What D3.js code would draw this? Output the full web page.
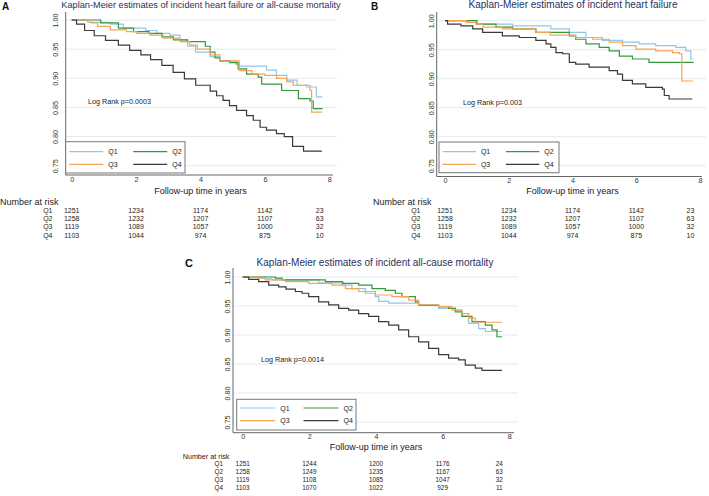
<!DOCTYPE html>
<html>
<head>
<meta charset="utf-8">
<script src="https://cdnjs.cloudflare.com/ajax/libs/d3/7.8.5/d3.min.js"></script>
<style>
    body { margin: 0; background: #fff; }
    text { font-family: "Liberation Sans", Arial, sans-serif; }
</style>
</head>
<body>
<script>
// km_panels.js

var groups = ["Q1", "Q2", "Q3", "Q4"],
    colors = ["#93c5ea", "#37973c", "#f5a455", "#3a3a3a"],
    yTicks = [0.75, 0.80, 0.85, 0.90, 0.95, 1.00],
    xTicks = [0, 2, 4, 6, 8],
    riskTimes = [0, 2, 4, 6, 7.7];

var titleA = "Kaplan-Meier estimates of incident heart failure or all-cause mortality",
    titleB = "Kaplan-Meier estimates of incident heart failure",
    titleC = "Kaplan-Meier estimates of incident all-cause mortality";

var logRankA = "Log Rank p=0.0003",
    logRankB = "Log Rank p=0.003",
    logRankC = "Log Rank p=0.0014";

// panel A: heart failure or all-cause mortality  [time, survival]
var a_q1 = [[0,1],[0.5,0.996],[1.2,0.993],[1.6,0.986],[2.3,0.982],[2.64,0.977],[3.05,0.974],[3.36,0.966],[3.6,0.955],[3.85,0.945],[4.3,0.937],[4.6,0.93],[5.1,0.924],[5.2,0.921],[6.05,0.914],[6.36,0.905],[6.68,0.897],[7.0,0.888],[7.3,0.885],[7.6,0.868],[7.78,0.868]];
var a_q2 = [[0,1],[0.9,0.995],[1.45,0.986],[1.92,0.98],[2.4,0.977],[2.8,0.971],[3.16,0.966],[3.6,0.963],[4.15,0.955],[4.3,0.945],[4.45,0.935],[4.6,0.93],[4.91,0.927],[5.17,0.916],[5.43,0.907],[5.79,0.902],[5.9,0.89],[6.52,0.879],[7.04,0.865],[7.4,0.861],[7.5,0.848],[7.79,0.848]];
var a_q3 = [[0,1],[0.6,0.995],[0.8,0.989],[1.2,0.983],[1.7,0.98],[2.02,0.977],[2.43,0.974],[2.85,0.969],[3.36,0.963],[3.67,0.957],[3.9,0.95],[4.3,0.94],[4.6,0.93],[5.2,0.913],[5.6,0.907],[6.0,0.905],[6.36,0.9],[6.68,0.894],[6.88,0.888],[7.4,0.879],[7.45,0.842],[7.78,0.842]];
var a_q4 = [[0,1],[0.15,0.993],[0.4,0.982],[0.7,0.973],[1.05,0.965],[1.45,0.957],[1.8,0.948],[2.15,0.94],[2.45,0.932],[2.8,0.922],[3.15,0.91],[3.5,0.899],[3.85,0.888],[4.3,0.878],[4.5,0.87],[4.7,0.862],[4.9,0.853],[5.12,0.845],[5.43,0.836],[5.64,0.828],[5.85,0.816],[6.05,0.811],[6.36,0.805],[6.6,0.8],[6.86,0.783],[7.2,0.775],[7.77,0.775]];

// panel B: heart failure
var b_q1 = [[0,1],[0.76,0.997],[1.0,0.994],[2.12,0.991],[3.32,0.986],[3.9,0.98],[4.42,0.971],[4.94,0.966],[5.57,0.963],[6.09,0.96],[6.61,0.957],[7.24,0.954],[7.55,0.948],[7.71,0.934],[7.78,0.934]];
var b_q2 = [[0,1],[1.0,0.994],[1.6,0.989],[2.12,0.986],[2.85,0.98],[3.9,0.974],[4.1,0.968],[4.42,0.96],[4.84,0.954],[5.15,0.948],[5.47,0.939],[5.88,0.934],[6.4,0.928],[7.8,0.928]];
var b_q3 = [[0,1],[0.66,0.997],[0.97,0.994],[1.2,0.989],[1.8,0.986],[2.85,0.98],[3.3,0.975],[4.1,0.971],[4.63,0.968],[5.15,0.963],[5.57,0.957],[5.99,0.951],[6.61,0.948],[7.14,0.945],[7.35,0.943],[7.43,0.896],[7.78,0.896]];
var b_q4 = [[0,1],[0.08,0.994],[0.5,0.991],[0.87,0.986],[1.18,0.98],[1.8,0.974],[2.33,0.971],[2.85,0.966],[3.17,0.96],[3.32,0.954],[3.48,0.945],[3.69,0.943],[3.9,0.928],[4.1,0.925],[4.52,0.92],[5.15,0.914],[5.41,0.908],[5.57,0.897],[5.88,0.891],[6.3,0.885],[6.82,0.882],[6.88,0.871],[7.03,0.865],[7.76,0.865]];

// panel C: all-cause mortality
var c_q1 = [[0,1],[0.68,0.997],[0.88,0.995],[2.28,0.99],[2.98,0.986],[3.28,0.98],[3.68,0.972],[3.98,0.966],[4.08,0.958],[4.38,0.955],[5.28,0.952],[5.88,0.946],[6.38,0.943],[6.58,0.932],[6.78,0.92],[7.08,0.911],[7.28,0.906],[7.78,0.906]];
var c_q2 = [[0,1],[0.98,0.998],[1.18,0.995],[2.48,0.992],[3.0,0.989],[3.48,0.986],[3.88,0.98],[4.28,0.977],[4.58,0.972],[4.78,0.966],[5.18,0.957],[5.28,0.951],[5.88,0.949],[6.18,0.946],[6.38,0.94],[6.58,0.932],[6.88,0.923],[7.28,0.917],[7.48,0.909],[7.63,0.897],[7.78,0.897]];
var c_q3 = [[0,1],[0.48,0.998],[0.68,0.995],[1.28,0.992],[1.98,0.989],[2.68,0.986],[3.08,0.98],[3.48,0.975],[3.98,0.969],[4.48,0.966],[4.98,0.96],[5.28,0.952],[5.88,0.949],[6.28,0.943],[6.58,0.937],[6.78,0.929],[6.98,0.922],[7.78,0.922]];
var c_q4 = [[0,1],[0.18,0.996],[0.48,0.992],[0.78,0.986],[1.08,0.983],[1.3,0.979],[1.58,0.975],[1.78,0.972],[1.98,0.966],[2.28,0.957],[2.58,0.952],[2.88,0.946],[3.18,0.943],[3.48,0.937],[3.78,0.932],[4.08,0.923],[4.38,0.917],[4.68,0.909],[4.98,0.897],[5.28,0.888],[5.58,0.877],[5.88,0.866],[6.18,0.86],[6.48,0.857],[6.68,0.848],[6.98,0.843],[7.18,0.839],[7.78,0.839]];

// number at risk
var riskAB_q1 = [1251, 1234, 1174, 1142, 23],
    riskAB_q2 = [1258, 1232, 1207, 1107, 63],
    riskAB_q3 = [1119, 1089, 1057, 1000, 32],
    riskAB_q4 = [1103, 1044, 974, 875, 10];
var riskC_q1 = [1251, 1244, 1200, 1176, 24],
    riskC_q2 = [1258, 1249, 1235, 1167, 63],
    riskC_q3 = [1119, 1108, 1085, 1047, 32],
    riskC_q4 = [1103, 1070, 1022, 929, 11];

var width = 709,
    height = 496;

var svg = d3.select("body").append("svg")
    .attr("width", width)
    .attr("height", height)
    .style("background-color", "#fff");

function drawPanel(p)
{
    var x = d3.scaleLinear().domain([0, 8]).range([p.x0, p.x8]),
        y = d3.scaleLinear().domain([0.75, 1]).range([p.yBot, p.yTop]);

    var g = svg.append("g");

    // grid
    g.selectAll(".grid").data(yTicks).enter().append("line")
        .attr("x1", p.axisX).attr("x2", p.right)
        .attr("y1", function(d) { return y(d); })
        .attr("y2", function(d) { return y(d); })
        .attr("stroke", "#e1ecf0")
        .attr("stroke-width", 1);

    // axes
    var yAxis = g.append("g")
        .attr("transform", "translate(" + p.axisX + ",0)")
        .call(d3.axisLeft(y).tickValues(yTicks).tickFormat(d3.format(".2f")).tickSize(0));
    yAxis.select(".domain").remove();
    yAxis.selectAll("text")
        .attr("transform", "rotate(-90)")
        .attr("x", 0).attr("dx", 0)
        .attr("y", -p.yLab).attr("dy", 0)
        .attr("text-anchor", "middle")
        .style("font-size", "7.2px")
        .attr("fill", "#333");

    var xAxis = g.append("g")
        .attr("transform", "translate(0," + p.axisY + ")")
        .call(d3.axisBottom(x).tickValues(xTicks).tickSize(0).tickPadding(p.xPad));
    xAxis.select(".domain").remove();
    xAxis.selectAll("text")
        .style("font-size", "7.2px")
        .attr("fill", "#333");

    g.append("line")
        .attr("x1", p.axisX).attr("x2", p.axisX)
        .attr("y1", p.top).attr("y2", p.axisY)
        .attr("stroke", "#666").attr("stroke-width", 1);
    g.append("line")
        .attr("x1", p.axisX).attr("x2", p.right - 4)
        .attr("y1", p.axisY).attr("y2", p.axisY)
        .attr("stroke", "#666").attr("stroke-width", 1);

    // curves
    var line = d3.line()
        .curve(d3.curveStepAfter)
        .x(function(d) { return x(d[0]); })
        .y(function(d) { return y(d[1]); });

    p.curves.forEach(function(c, i) {
        g.append("path")
            .datum(c)
            .attr("d", line)
            .attr("fill", "none")
            .attr("stroke", colors[i])
            .attr("stroke-width", 1.2);
    });

    // titles
    g.append("text")
        .attr("x", p.titleX).attr("y", p.titleY)
        .attr("text-anchor", "middle")
        .style("font-size", p.titleSize + "px")
        .attr("fill", "#1f3162")
        .text(p.title);
    g.append("text")
        .attr("x", p.letterX).attr("y", p.letterY)
        .style("font-size", p.letterSize + "px")
        .style("font-weight", "bold")
        .attr("fill", "#111")
        .text(p.letter);
    g.append("text")
        .attr("x", x(4)).attr("y", p.xTitleY)
        .attr("text-anchor", "middle")
        .style("font-size", "9px")
        .attr("fill", "#222")
        .text("Follow-up time in years");
    g.append("text")
        .attr("x", p.lrX).attr("y", p.lrY)
        .style("font-size", "7.2px")
        .attr("fill", "#222")
        .text(p.logRank);

    // legend
    var lg = p.legend;
    g.append("rect")
        .attr("x", lg.x).attr("y", lg.y)
        .attr("width", lg.w).attr("height", lg.h)
        .attr("fill", "#fff")
        .attr("stroke", "#777")
        .attr("stroke-width", 1);
    groups.forEach(function(name, i) {
        var col = i % 2,
            row = Math.floor(i / 2),
            lx = lg.x + 3.5 + col * lg.colGap,
            ly = lg.y + lg.row0 + row * lg.rowGap;
        g.append("line")
            .attr("x1", lx).attr("x2", lx + lg.lineW)
            .attr("y1", ly).attr("y2", ly)
            .attr("stroke", colors[i])
            .attr("stroke-width", 1.2);
        g.append("text")
            .attr("x", lx + lg.lineW + 5).attr("y", ly + 2.5)
            .style("font-size", "7px")
            .attr("fill", "#222")
            .text(name);
    });

    // number at risk
    var t = p.table;
    g.append("text")
        .attr("x", t.x).attr("y", t.y)
        .style("font-size", t.headSize + "px")
        .attr("fill", "#222")
        .text("Number at risk");
    p.risk.forEach(function(r, i) {
        var ry = t.y + t.row0 + i * t.rowGap;
        g.append("text")
            .attr("x", t.labX).attr("y", ry)
            .attr("text-anchor", "end")
            .style("font-size", t.numSize + "px")
            .attr("fill", "#222")
            .text(groups[i]);
        g.selectAll(".risk" + i).data(r).enter().append("text")
            .attr("x", function(d, j) { return x(riskTimes[j]); })
            .attr("y", ry)
            .attr("text-anchor", "middle")
            .style("font-size", t.numSize + "px")
            .attr("fill", "#222")
            .text(function(d) { return d; });
    });
}

drawPanel({
    x0: 71.7, x8: 329.3, yTop: 20, yBot: 165.7,
    axisX: 65.7, axisY: 175, right: 337, top: 12,
    yLab: 8, xPad: 2,
    title: titleA, titleX: 201, titleY: 8, titleSize: 9.2,
    letter: "A", letterX: 2, letterY: 9.5, letterSize: 10,
    xTitleY: 194,
    logRank: logRankA, lrX: 88, lrY: 104.3,
    curves: [a_q1, a_q2, a_q3, a_q4],
    legend: {x: 65.7, y: 141.7, w: 119.3, h: 31.3, row0: 10, rowGap: 12.6, colGap: 64, lineW: 34},
    risk: [riskAB_q1, riskAB_q2, riskAB_q3, riskAB_q4],
    table: {x: 0, y: 205, headSize: 9, numSize: 7, labX: 52.5, row0: 8.2, rowGap: 8.1}
});

drawPanel({
    x0: 445, x8: 700, yTop: 20.7, yBot: 165.7,
    axisX: 436.7, axisY: 176.5, right: 706, top: 12,
    yLab: 3, xPad: 1.2,
    title: titleB, titleX: 573, titleY: 8, titleSize: 10,
    letter: "B", letterX: 371, letterY: 9.5, letterSize: 10,
    xTitleY: 194.2,
    logRank: logRankB, lrX: 463, lrY: 104.5,
    curves: [b_q1, b_q2, b_q3, b_q4],
    legend: {x: 439, y: 142, w: 120, h: 30.7, row0: 9.7, rowGap: 12.6, colGap: 63.4, lineW: 33.4},
    risk: [riskAB_q1, riskAB_q2, riskAB_q3, riskAB_q4],
    table: {x: 373, y: 205, headSize: 9, numSize: 7, labX: 420.5, row0: 8.2, rowGap: 8.1}
});

drawPanel({
    x0: 242.7, x8: 509.3, yTop: 277, yBot: 422,
    axisX: 233, axisY: 432.7, right: 518, top: 268,
    yLab: 3, xPad: 1,
    title: titleC, titleX: 375, titleY: 265.5, titleSize: 10,
    letter: "C", letterX: 185, letterY: 266.5, letterSize: 11,
    xTitleY: 450.3,
    logRank: logRankC, lrX: 261, lrY: 362,
    curves: [c_q1, c_q2, c_q3, c_q4],
    legend: {x: 236.7, y: 399.3, w: 119.3, h: 30.7, row0: 8.7, rowGap: 12.7, colGap: 63.3, lineW: 35},
    risk: [riskC_q1, riskC_q2, riskC_q3, riskC_q4],
    table: {x: 182.7, y: 458.5, headSize: 7.2, numSize: 6.4, labX: 223, row0: 7.5, rowGap: 8.1}
});
</script>
</body>
</html>
